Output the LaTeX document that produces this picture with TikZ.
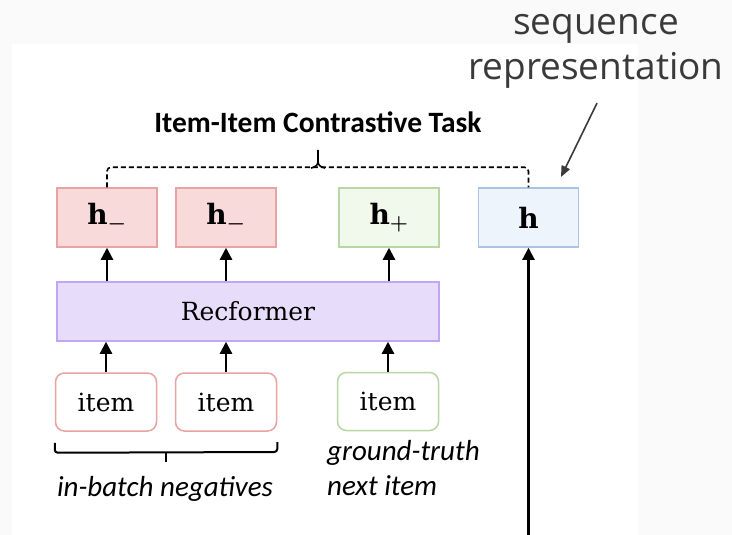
\documentclass[tikz,border=0pt]{standalone}
\usepackage{fontspec}
\usepackage{amsmath}
\setmainfont{DejaVu Serif}
\newfontfamily\labelfont{Carlito}
\newfontfamily\notefont{Open Sans}
\usetikzlibrary{arrows.meta}

\definecolor{negfill}{HTML}{F9DADA}
\definecolor{negdraw}{HTML}{E9A3A3}
\definecolor{posfill}{HTML}{F1F8EC}
\definecolor{posdraw}{HTML}{B9D7A6}
\definecolor{seqfill}{HTML}{EEF4FC}
\definecolor{seqdraw}{HTML}{ABC4E2}
\definecolor{recfill}{HTML}{E7DDFB}
\definecolor{recdraw}{HTML}{C2A5F4}
\definecolor{pagebg}{HTML}{FAFAFA}
\definecolor{notecol}{HTML}{3A3A3A}

\tikzset{
  embbox/.style={draw, line width=1.5pt, minimum width=100pt, minimum height=59pt,
    inner sep=0pt, font=\fontsize{28}{32}\selectfont},
  negbox/.style={embbox, fill=negfill, draw=negdraw},
  posbox/.style={embbox, fill=posfill, draw=posdraw},
  seqbox/.style={embbox, fill=seqfill, draw=seqdraw},
  itembox/.style={draw, line width=1.5pt, fill=white, rounded corners=9pt,
    minimum width=101pt, minimum height=58pt, inner sep=0pt,
    font=\fontsize{25}{29}\selectfont},
  flow/.style={line width=2.2pt, -{Triangle[length=12pt,width=12pt]}},
  pointer/.style={line width=1.6pt, draw=notecol, -{Triangle[length=11pt,width=9pt]}},
  caption/.style={font=\labelfont\itshape\fontsize{29}{33}\selectfont, inner sep=0pt},
  note/.style={font=\notefont\fontsize{37}{45}\selectfont, text=notecol, inner sep=0pt, anchor=base},
}

\begin{document}
\begin{tikzpicture}[x=1pt, y=-1pt]
  % page and white panel
  \fill[pagebg] (0,0) rectangle (732,535);
  \fill[white] (12,44) rectangle (638,535);
  \useasboundingbox (0,0) rectangle (732,535);

  % output embeddings
  \node[negbox] (hn1) at (107,217.5) {$\mathbf{h}_{\boldsymbol{-}}$};
  \node[negbox] (hn2) at (226,217.5) {$\mathbf{h}_{\boldsymbol{-}}$};
  \node[posbox] (hp)  at (389,217.5) {$\mathbf{h}_{\boldsymbol{+}}$};
  \node[seqbox] (h)   at (528.5,217.5) {$\mathbf{h}$};

  % encoder
  \node[draw=recdraw, fill=recfill, line width=1.5pt, minimum width=382pt,
        minimum height=59pt, inner sep=0pt, font=\fontsize{25}{29}\selectfont]
        (rec) at (248,311.5) {Recformer};

  % input items
  \node[itembox, draw=negdraw] (it1) at (106,402) {item};
  \node[itembox, draw=negdraw] (it2) at (226,402) {item};
  \node[itembox, draw=posdraw] (it3) at (388,401.5) {item};

  % flow arrows
  \draw[flow] (it1.north) -- (it1.north |- rec.south);
  \draw[flow] (it2.north) -- (it2.north |- rec.south);
  \draw[flow] (it3.north) -- (it3.north |- rec.south);
  \draw[flow] (rec.north -| hn1) -- (hn1.south);
  \draw[flow] (rec.north -| hn2) -- (hn2.south);
  \draw[flow] (rec.north -| hp) -- (hp.south);
  \coordinate (seqin) at (528.5,535);
  \draw[flow] (seqin) -- (h.south);

  % contrastive task bracket
  \node[font=\labelfont\bfseries\fontsize{29.5}{33}\selectfont, anchor=base, inner sep=0pt]
        (task) at (318,132) {Item-Item Contrastive Task};
  \draw[line width=1.6pt, dash pattern=on 5pt off 3pt, rounded corners=4pt]
        (hn1.north) -- ++(0,-20) -| (h.north);
  \draw[line width=1.6pt]
        (311,168) .. controls (316,167) and (318,165) .. (318,161) -- (318,150);
  \draw[line width=1.6pt]
        (325,168) .. controls (320,167) and (318,165) .. (318,161);

  % in-batch negatives brace
  \draw[line width=2pt, rounded corners=3pt]
        (it1.south west) ++(0,11) -- ++(0,10) -- (it2.south east |- 0,452) -- ++(0,-10);
  \draw[line width=2pt] (166,452) -- (166,462);
  \node[caption] (neg) at (165,489) {in-batch negatives};

  % ground-truth caption
  \node[caption, anchor=base west] (gt1) at (327,460) {ground-truth};
  \node[caption, anchor=base west] (gt2) at (327,495) {next item};

  % sequence representation callout
  \node[note] (seq1) at (596,35) {sequence};
  \node[note] (seq2) at (596,80) {representation};
  \coordinate (seqtip) at (561,177);
  \draw[pointer] ([xshift=1pt,yshift=-14pt]seq2.south) -- (seqtip);
\end{tikzpicture}
\end{document}
